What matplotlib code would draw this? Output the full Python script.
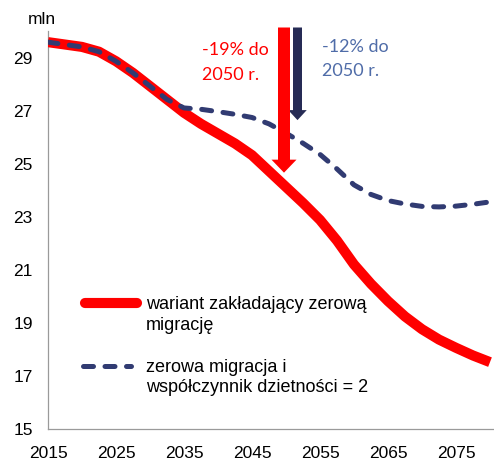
import matplotlib
matplotlib.use("Agg")
import matplotlib.pyplot as plt
from matplotlib.patches import FancyArrow

# ---- data ----
years = [2015, 2017.5, 2020, 2022.5, 2025, 2027.5, 2030, 2032.5, 2035, 2037.5,
         2040, 2042.5, 2045, 2047.5, 2050, 2052.5, 2055, 2057.5, 2060, 2062.5,
         2065, 2067.5, 2070, 2072.5, 2075, 2077.5, 2080]
zero_migration = [29.58, 29.49, 29.40, 29.22, 28.86, 28.42, 27.92, 27.42, 26.92, 26.50,
                  26.13, 25.76, 25.32, 24.72, 24.12, 23.52, 22.88, 22.10, 21.20, 20.47,
                  19.82, 19.24, 18.76, 18.37, 18.06, 17.77, 17.52]
zero_mig_tfr2 = [29.58, 29.49, 29.40, 29.22, 28.86, 28.42, 27.92, 27.42, 27.10, 27.05,
                 26.96, 26.86, 26.74, 26.50, 26.15, 25.77, 25.35, 24.80, 24.20, 23.84,
                 23.61, 23.48, 23.39, 23.37, 23.40, 23.47, 23.56]
xticks = [2015, 2025, 2035, 2045, 2055, 2065, 2075]
yticks = [15, 17, 19, 21, 23, 25, 27, 29]
label_red = ["wariant zakładający zerową", "migrację"]
label_blue = ["zerowa migracja i", "współczynnik dzietności = 2"]

RED = "#FF0000"
NAVY = "#313B72"
ARROW_NAVY = "#262B55"
TXT_BLUE = "#4F6CA8"

plt.rcParams['font.family'] = ['Liberation Sans', 'DejaVu Sans']

W, H = 494, 461
fig = plt.figure(figsize=(W / 100, H / 100), dpi=100)
ax = fig.add_axes([48 / W, 32 / H, 446 / W, 398 / H])

ax.plot(years, zero_migration, color=RED, lw=7.3, solid_capstyle='butt',
        solid_joinstyle='round', zorder=3)
ax.plot(years, zero_mig_tfr2, color=NAVY, lw=3.6, dashes=(2.0, 2.3),
        dash_capstyle='round', zorder=4)

ax.set_xlim(2015, 2015 + 446 / 6.8)
ax.set_ylim(15, 30)
ax.set_xticks(xticks)
ax.set_yticks(yticks)
ax.tick_params(axis='both', length=0, labelsize=12.5, colors='black')
ax.tick_params(axis='y', pad=11)
ax.tick_params(axis='x', pad=12)
for s in ['top', 'right']:
    ax.spines[s].set_visible(False)
for s in ['left', 'bottom']:
    ax.spines[s].set_color('#9A9A9A')
    ax.spines[s].set_linewidth(0.9)

# unit label
fig.text(42 / W, 1 - 24 / H, "mln", fontsize=12.5, ha='center', va='baseline')

# arrows
def px_x(px):
    return 2015 + (px - 48) / 6.8

def px_y(py):
    return 15 + (429 - py) / 26.5

sx, sy = 6.8, 26.5
red_arrow = FancyArrow(px_x(284), px_y(28), 0, px_y(173) - px_y(28),
                       width=12 / sx, head_width=25 / sx, head_length=13 / sy,
                       length_includes_head=True, color=RED, lw=0,
                       clip_on=False, zorder=5)
navy_arrow = FancyArrow(px_x(297.5), px_y(28), 0, px_y(120.5) - px_y(28),
                        width=9 / sx, head_width=18.5 / sx, head_length=10 / sy,
                        length_includes_head=True, color=ARROW_NAVY, lw=0,
                        clip_on=False, zorder=5)
ax.add_patch(navy_arrow)
ax.add_patch(red_arrow)

# annotation texts
afont = ['Lato', 'DejaVu Sans']
fig.text(202 / W, 1 - 55 / H, "-19% do", color=RED, fontsize=13, family=afont,
         ha='left', va='baseline')
fig.text(202 / W, 1 - 80 / H, "2050 r.", color=RED, fontsize=13, family=afont,
         ha='left', va='baseline')
fig.text(322 / W, 1 - 52 / H, "-12% do", color=TXT_BLUE, fontsize=13, family=afont,
         ha='left', va='baseline')
fig.text(322 / W, 1 - 75.5 / H, "2050 r.", color=TXT_BLUE, fontsize=13, family=afont,
         ha='left', va='baseline')

# manual legend
def fx(px):
    return px / W

def fy(py):
    return 1 - py / H

fig.add_artist(plt.Line2D([fx(85), fx(137)], [fy(303), fy(303)], color=RED, lw=7.3,
                          solid_capstyle='round'))
fig.add_artist(plt.Line2D([fx(82.5), fx(131)], [fy(366), fy(366)], color=NAVY, lw=3.6,
                          dashes=(2.0, 2.3), dash_capstyle='round'))
fig.text(fx(146), fy(309), label_red[0], fontsize=13, ha='left', va='baseline')
fig.text(fx(146), fy(330), label_red[1], fontsize=13, ha='left', va='baseline')
fig.text(fx(146), fy(372), label_blue[0], fontsize=13, ha='left', va='baseline')
fig.text(fx(146), fy(392), label_blue[1], fontsize=13, ha='left', va='baseline')

fig.savefig("out.png", dpi=100)
